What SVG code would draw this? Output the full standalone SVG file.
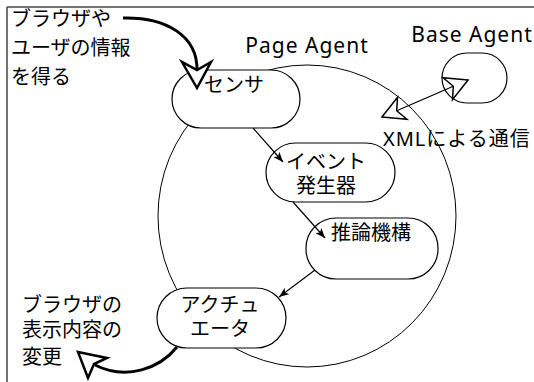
<svg xmlns="http://www.w3.org/2000/svg" width="534" height="382" viewBox="0 0 534 382">
  <style>
    .jp { font-family: "Noto Sans CJK JP", "Noto Sans", sans-serif; font-size: 20px; fill: #000; }
    .lat { font-family: "Noto Sans", "Noto Sans CJK JP", sans-serif; font-size: 21px; letter-spacing: 1px; fill: #000; }
    .node { fill: #fff; stroke: #000; stroke-width: 1.2; }
    .conn { fill: none; stroke: #000; stroke-width: 1.2; }
    .thick { fill: none; stroke: #000; stroke-width: 3; }
    .hollow { fill: #fff; stroke: #000; stroke-width: 1.5; stroke-linejoin: miter; }
    .hollowThick { fill: #fff; stroke: #000; stroke-width: 2.5; stroke-linejoin: miter; }
  </style>
  <defs>
    <marker id="arrow" markerWidth="10" markerHeight="8" refX="10" refY="4" orient="auto" markerUnits="userSpaceOnUse">
      <path d="M0,0 L10,4 L0,8 L2.5,4 Z" fill="#000"/>
    </marker>
  </defs>

  <rect width="534" height="382" fill="#fff"/>

  <!-- frame -->
  <g id="frame" stroke="#444" stroke-width="1.5" fill="none">
    <line x1="7" y1="7" x2="534" y2="7"/>
    <line x1="7" y1="7" x2="7" y2="382"/>
  </g>

  <!-- Page Agent boundary -->
  <g id="page-agent">
    <ellipse cx="307" cy="216" rx="149" ry="151" fill="none" stroke="#000" stroke-width="1"/>
    <text class="lat" x="307" y="53" text-anchor="middle">Page Agent</text>
  </g>

  <g id="sensor">
    <rect class="node" x="172" y="70" width="128" height="58" rx="29"/>
    <text class="jp" x="234" y="92" text-anchor="middle">センサ</text>
  </g>

  <g id="event-generator">
    <rect class="node" x="266" y="143" width="129" height="59" rx="29.5"/>
    <text class="jp" x="326" y="169" text-anchor="middle">イベント</text>
    <text class="jp" x="326" y="193" text-anchor="middle">発生器</text>
  </g>

  <g id="inference">
    <rect class="node" x="306" y="218" width="132" height="61" rx="30"/>
    <text class="jp" x="371" y="240" text-anchor="middle">推論機構</text>
  </g>

  <g id="actuator">
    <rect class="node" x="157" y="288" width="129" height="60" rx="30"/>
    <text class="jp" x="220" y="312" text-anchor="middle">アクチュ</text>
    <text class="jp" x="220" y="336" text-anchor="middle">エータ</text>
  </g>

  <g id="base-agent">
    <rect class="node" x="442" y="53" width="65" height="50" rx="25"/>
    <text class="lat" x="472" y="42" text-anchor="middle">Base Agent</text>
  </g>

  <g id="labels">
    <text class="jp" x="11" y="26">ブラウザや</text>
    <text class="jp" x="11" y="55">ユーザの情報</text>
    <text class="jp" x="11" y="84">を得る</text>
    <text class="jp" x="22" y="312">ブラウザの</text>
    <text class="jp" x="22" y="337">表示内容の</text>
    <text class="jp" x="22" y="364">変更</text>
    <text class="lat" x="383" y="146" style="font-size:20px">XMLによる通信</text>
  </g>

  <g id="connectors">
    <!-- internal flow -->
    <line class="conn" x1="253" y1="128" x2="283" y2="162" marker-end="url(#arrow)"/>
    <line class="conn" x1="293" y1="202" x2="325" y2="238" marker-end="url(#arrow)"/>
    <line class="conn" x1="315" y1="270" x2="279" y2="297" marker-end="url(#arrow)"/>

    <!-- XML communication between agents -->
    <line class="conn" x1="396.7" y1="110.7" x2="453.3" y2="86.3"/>
    <polygon class="hollow" points="382,117 406.9,119.3 396.7,110.7 397.5,97.3"/>
    <polygon class="hollow" points="468,80 443.1,77.7 453.3,86.3 452.5,99.7"/>

    <!-- browser input -->
    <path class="thick" d="M123,18 C165,17 198,35 197,71"/>
    <polygon class="hollowThick" points="197,88 182,62 197,70 211,62"/>

    <!-- browser output -->
    <path class="thick" d="M177,347 C160,368 127,381 95,365"/>
    <polygon class="hollowThick" points="78,352 107,358 94,364 88,378"/>
  </g>
</svg>
